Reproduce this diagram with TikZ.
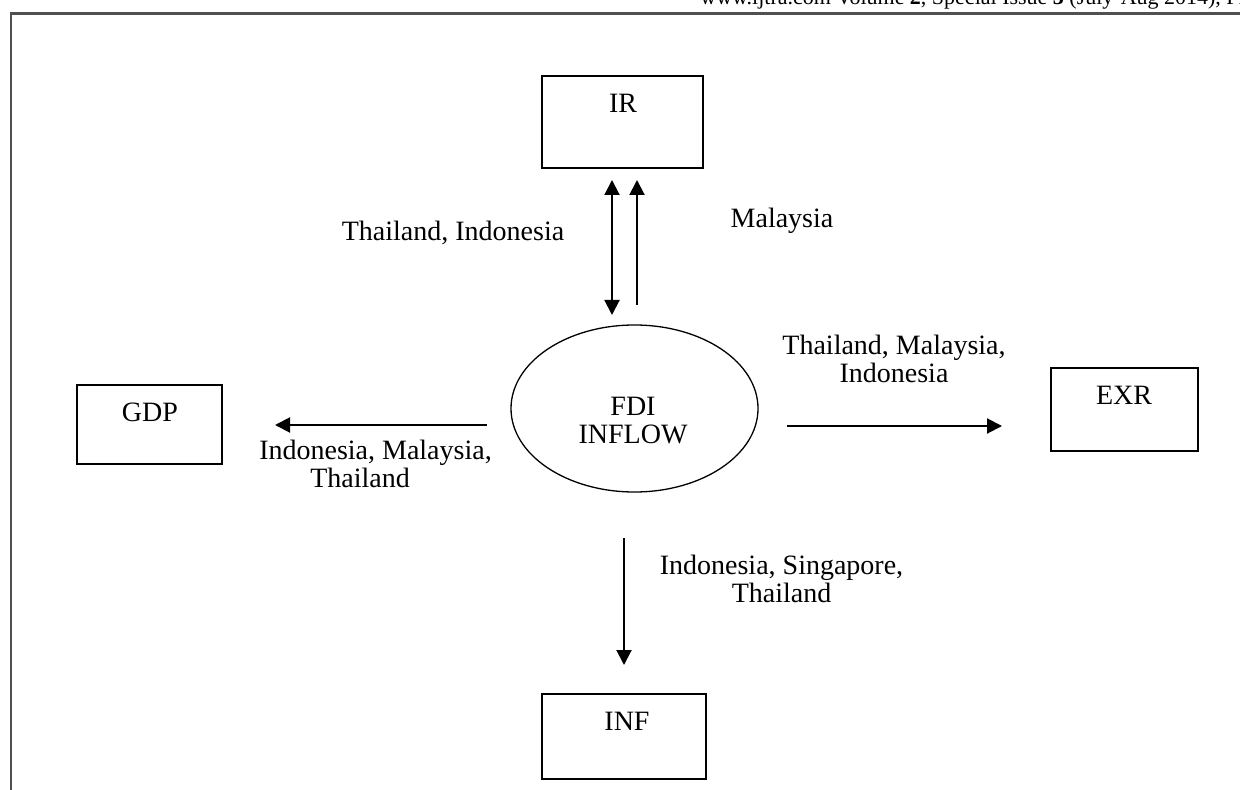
\documentclass[tikz,border=0pt]{standalone}
\usepackage{fontspec}
\setmainfont{Liberation Serif}
\usetikzlibrary{arrows.meta,shapes.geometric}
\begin{document}
\begin{tikzpicture}[x=0.5pt,y=-0.5pt]
\tikzset{
  box/.style={draw=black, line width=1pt, inner sep=0pt},
  lbl/.style={font=\fontsize{14}{14}\selectfont, inner sep=0pt, align=center},
  arr/.style={line width=1pt, -{Triangle[length=7.5pt,width=7.5pt]}},
  darr/.style={line width=1pt, {Triangle[length=7.5pt,width=7.5pt]}-{Triangle[length=7.5pt,width=7.5pt]}},
  frame/.style={draw={rgb,255:red,80;green,80;blue,80}, line width=1.1pt},
}
\useasboundingbox (0,0) rectangle (1240,790);
\clip (0,0) rectangle (1240,790);
\fill[white] (0,0) rectangle (1240,790);
% page frame
\coordinate (fbl) at (11,790);
\coordinate (ftl) at (11,13.5);
\coordinate (ftr) at (1240,13.5);
\draw[frame] (fbl) -- (ftl) -- (ftr);
\node[anchor=base west, font=\fontsize{11}{13}\selectfont, inner sep=0pt] (hdr) at (700,5) {www.ijtra.com Volume \textbf{2}, Special Issue \textbf{3} (July-Aug 2014), PP. 38-42};
% boxes
\node[box, minimum width=80.5pt, minimum height=46pt] (ir) at (622.5,122) {};
\node[lbl] (irt) at (623,103) {IR};
\node[box, minimum width=72.5pt, minimum height=39.5pt] (gdp) at (149.5,424.5) {};
\node[lbl] (gdpt) at (150,412) {GDP};
\node[box, minimum width=73.5pt, minimum height=41.5pt] (exr) at (1124.5,409.5) {};
\node[lbl] (exrt) at (1124,395) {EXR};
\node[box, minimum width=82pt, minimum height=42.5pt] (inf) at (624,736.5) {};
\node[lbl] (inft) at (627,721) {INF};
% ellipse
\node[draw=black, ellipse, line width=0.65pt, minimum width=123.5pt, minimum height=83.5pt, inner sep=0pt] (fdi) at (634.5,408.5) {};
\node[lbl] (fdit) at (633,421) {FDI\\INFLOW};
% connector ends
\coordinate (u1a) at (612,315); \coordinate (u1b) at (612,180);
\coordinate (u2a) at (637,305); \coordinate (u2b) at (637,180);
\coordinate (la) at (487,425); \coordinate (lb) at (275,425);
\coordinate (ra) at (787,426); \coordinate (rb) at (1002,426);
\coordinate (da) at (624,538); \coordinate (db) at (624,665);
\draw[darr] (u1a) -- (u1b);
\draw[arr] (u2a) -- (u2b);
\draw[arr] (la) -- (lb);
\draw[arr] (ra) -- (rb);
\draw[arr] (da) -- (db);
% labels
\node[lbl] (l1) at (453,233) {Thailand, Indonesia};
\node[lbl] (l2) at (782,221) {Malaysia};
\node[lbl] (l3) at (894,359) {Thailand, Malaysia,\\Indonesia};
\node[lbl, align=left] (l4) at (375.5,464) {Indonesia, Malaysia,\\\hspace*{25.5pt}Thailand};
\node[lbl] (l5) at (781.5,579) {Indonesia, Singapore,\\Thailand};
\end{tikzpicture}
\end{document}
